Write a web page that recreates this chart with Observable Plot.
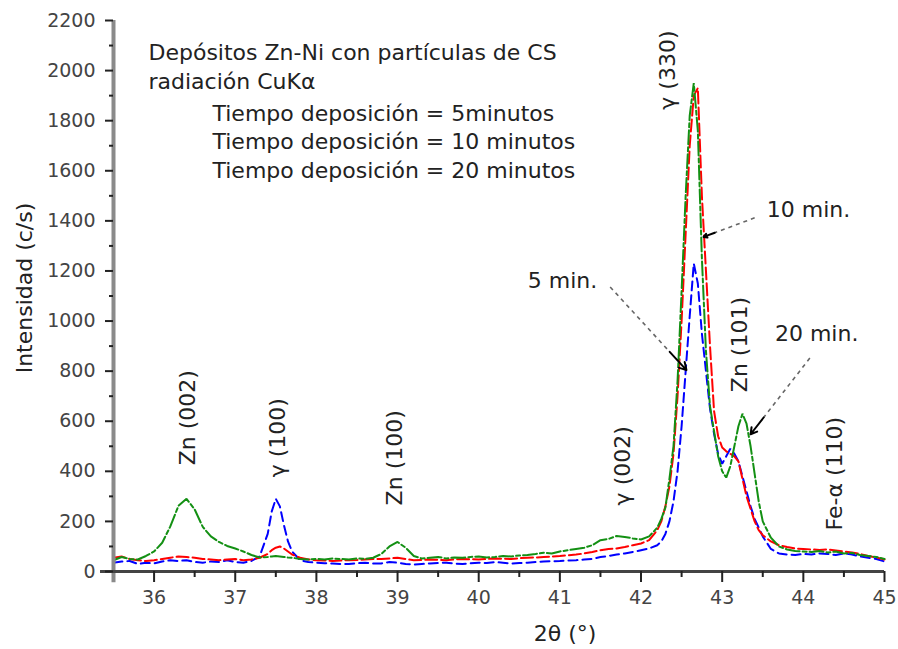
<!DOCTYPE html>
<html>
<head>
<meta charset="utf-8">
<script src="https://cdn.jsdelivr.net/npm/d3@7"></script>
<script src="https://cdn.jsdelivr.net/npm/@observablehq/plot@0.6"></script>
<style>
  html, body { margin: 0; padding: 0; background: #fff; }
  svg { display: block; }
</style>
</head>
<body>
<div id="chart"></div>
<script>
// ---------------- data ----------------
const twoTheta = [
  35.5, 35.6, 35.7, 35.8, 35.9, 36.0, 36.1, 36.2, 36.3, 36.4,
  36.5, 36.6, 36.7, 36.8, 36.9, 37.0, 37.1, 37.2, 37.3, 37.4,
  37.45, 37.5, 37.55, 37.6, 37.65, 37.7, 37.8, 37.9, 38.0, 38.1,
  38.2, 38.3, 38.4, 38.5, 38.6, 38.7, 38.8, 38.9, 39.0, 39.1,
  39.2, 39.3, 39.4, 39.5, 39.6, 39.7, 39.8, 39.9, 40.0, 40.1,
  40.2, 40.3, 40.4, 40.5, 40.6, 40.7, 40.8, 40.9, 41.0, 41.1,
  41.2, 41.3, 41.4, 41.5, 41.6, 41.7, 41.8, 41.9, 42.0, 42.1,
  42.2, 42.25, 42.3, 42.35, 42.4, 42.45, 42.5, 42.55, 42.6, 42.65,
  42.7, 42.75, 42.8, 42.85, 42.9, 42.95, 43.0, 43.05, 43.1, 43.15,
  43.2, 43.25, 43.3, 43.35, 43.4, 43.45, 43.5, 43.6, 43.7, 43.8,
  43.9, 44.0, 44.1, 44.2, 44.3, 44.4, 44.5, 44.6, 44.7, 44.8,
  44.9, 45.0
];

// Tiempo deposición = 5 minutos (blue)
const int5min = [
  35, 40, 42, 30, 35, 32, 40, 45, 42, 45,
  38, 35, 40, 38, 45, 38, 35, 42, 60, 150,
  240, 290, 260, 185, 120, 80, 45, 38, 35, 33,
  32, 30, 30, 33, 35, 32, 32, 38, 35, 30,
  28, 30, 32, 34, 35, 32, 30, 33, 35, 34,
  38, 35, 32, 34, 35, 38, 40, 41, 42, 44,
  45, 48, 50, 58, 62, 68, 72, 78, 85, 92,
  105, 120, 150, 200, 280, 400, 580, 800, 1020, 1230,
  1150, 950, 800, 650, 550, 470, 430, 460, 490, 470,
  440, 380, 320, 260, 210, 175, 140, 90, 72, 68,
  66, 70, 68, 72, 70, 66, 72, 68, 60, 55,
  50, 40
];

// Tiempo deposición = 10 minutos (red)
const int10min = [
  55, 60, 50, 45, 42, 45, 50, 55, 60, 58,
  55, 50, 48, 45, 48, 50, 45, 48, 55, 70,
  85, 95, 100, 92, 80, 68, 55, 48, 45, 44,
  42, 44, 45, 46, 48, 50, 50, 52, 55, 50,
  45, 46, 48, 47, 45, 48, 50, 49, 48, 50,
  52, 51, 50, 53, 55, 56, 58, 60, 62, 65,
  68, 72, 78, 85, 90, 92, 98, 105, 112, 125,
  165, 200, 260, 340, 470, 700, 1000, 1350, 1700, 1900,
  1930, 1500, 1200, 900, 640, 540, 495, 480, 470, 460,
  440, 370, 300, 250, 200, 165, 145, 120, 105, 98,
  92, 90, 88, 86, 88, 84, 80, 76, 70, 62,
  56, 48
];

// Tiempo deposición = 20 minutos (green)
const int20min = [
  45, 58, 50, 48, 62, 80, 115, 180, 262, 290,
  248, 178, 140, 118, 102, 92, 80, 66, 56, 58,
  60, 62, 60, 58, 56, 55, 50, 48, 50, 48,
  52, 50, 48, 52, 50, 55, 70, 100, 118, 95,
  62, 52, 55, 58, 52, 56, 55, 58, 60, 56,
  58, 62, 60, 64, 66, 70, 75, 72, 80, 85,
  90, 95, 105, 125, 130, 142, 138, 132, 128, 140,
  175, 210, 255, 370, 500, 760, 1120, 1500, 1820, 1950,
  1760, 1250, 880, 660, 560, 460, 400, 375, 420, 500,
  580, 630, 590, 500, 390, 280, 200, 135, 100, 88,
  82, 80, 78, 82, 76, 80, 72, 74, 66, 62,
  58, 50
];

const seriesNames = ["5 min", "10 min", "20 min"];
const xTicks = [36, 37, 38, 39, 40, 41, 42, 43, 44, 45];
const xMinorTicks = [36.5, 37.5, 38.5, 39.5, 40.5, 41.5, 42.5, 43.5, 44.5];
const yTicks = [0, 200, 400, 600, 800, 1000, 1200, 1400, 1600, 1800, 2000, 2200];
const yMinorTicks = [100, 300, 500, 700, 900, 1100, 1300, 1500, 1700, 1900, 2100];

const legendHeader = ["Depósitos Zn-Ni con partículas de CS", "radiación CuKα"];
const legendEntries = [
  "Tiempo deposición = 5minutos",
  "Tiempo deposición = 10 minutos",
  "Tiempo deposición = 20 minutos"
];

// peak identifications (2θ position, intensity at foot of label)
const peakLabelText = ["Zn (002)", "γ (100)", "Zn (100)", "γ (002)", "γ (330)", "Zn (101)", "Fe-α (110)"];
const peakLabelTheta = [36.42, 37.53, 38.97, 41.78, 42.33, 43.22, 44.39];
const peakLabelIntensity = [424, 376, 264, 264, 1844, 716, 164];

// curve call-outs: text, text position, arrow start, arrow end
const calloutText = ["10 min.", "5 min.", "20 min."];
const calloutTheta = [43.55, 41.46, 43.65];
const calloutIntensity = [1444, 1160, 948];
const calloutAnchor = ["start", "end", "start"];
const arrowFromTheta = [43.40, 41.62, 44.08];
const arrowFromIntensity = [1412, 1136, 852];
const arrowToTheta = [42.77, 42.56, 43.35];
const arrowToIntensity = [1336, 804, 548];

// ---------------- build ----------------
const colors = {"5 min": "#0000ff", "10 min": "#ff0000", "20 min": "#139013"};
const dashes = {"5 min": "9,5", "10 min": "12,4", "20 min": "14,3,4,3"};
const seriesValues = [int5min, int10min, int20min];
if (seriesValues.some(v => v.length !== twoTheta.length)) console.error("length mismatch", seriesValues.map(v => v.length), twoTheta.length);

const rows = seriesNames.flatMap((name, s) =>
  twoTheta.map((t, i) => ({name, theta: t, I: seriesValues[s][i]})));

const peakLabels = peakLabelText.map((text, i) => ({text, x: peakLabelTheta[i], y: peakLabelIntensity[i]}));
const callouts = calloutText.map((text, i) => ({
  text, x: calloutTheta[i], y: calloutIntensity[i], anchor: calloutAnchor[i],
  x1: arrowFromTheta[i], y1: arrowFromIntensity[i], x2: arrowToTheta[i], y2: arrowToIntensity[i],
  hx: arrowFromTheta[i] + 0.78 * (arrowToTheta[i] - arrowFromTheta[i]),
  hy: arrowFromIntensity[i] + 0.78 * (arrowToIntensity[i] - arrowFromIntensity[i])
}));

const font = "'DejaVu Sans', 'Liberation Sans', sans-serif";

const chart = Plot.plot({
  width: 898,
  height: 649,
  marginLeft: 113,
  marginRight: 14,
  marginTop: 20,
  marginBottom: 78,
  x: {domain: [35.5, 45], label: null},
  y: {domain: [0, 2200], label: null},
  style: {fontFamily: font, background: "#fff", color: "#222", overflow: "visible"},
  marks: [
    // curves
    ...seriesNames.map(name => Plot.line(rows.filter(d => d.name === name), {
      x: "theta", y: "I", stroke: colors[name], strokeWidth: 2,
      strokeDasharray: dashes[name], strokeLinejoin: "miter"
    })),

    // axis lines
    Plot.ruleX([35.5], {y1: -45, y2: 2200, stroke: "#8a8a8a", strokeWidth: 4}),
    Plot.ruleY([0], {x1: 35.34, x2: 45, stroke: "#444", strokeWidth: 3}),

    // x axis
    Plot.axisX(xTicks, {tickSize: 11, tickPadding: 8, tickFormat: d3.format("d"), fontSize: 19,
      stroke: "#222", strokeWidth: 2, fill: "#444", label: null}),
    Plot.axisX(xMinorTicks, {tickSize: 6, tickFormat: () => "", stroke: "#222", strokeWidth: 2, label: null}),
    // y axis
    Plot.axisY(yTicks, {tickSize: 8, tickPadding: 10, tickFormat: d3.format("d"), fontSize: 19,
      stroke: "#222", strokeWidth: 2, fill: "#444", label: null}),
    Plot.axisY(yMinorTicks, {tickSize: 4, tickFormat: () => "", stroke: "#222", strokeWidth: 2, label: null}),

    // axis titles
    Plot.text(["Intensidad (c/s)"], {frameAnchor: "left", dx: -89, dy: -8, rotate: -90,
      textAnchor: "middle", lineAnchor: "middle", fontSize: 22, fill: "#222", text: d => d}),
    Plot.text(["2θ (°)"], {frameAnchor: "bottom", dx: 66, dy: 62, textAnchor: "middle",
      lineAnchor: "middle", fontSize: 22, fill: "#222", text: d => d}),

    // legend block
    ...legendHeader.map((t, i) => Plot.text([t], {frameAnchor: "top-left", dx: 35, dy: 32 + i * 29,
      text: d => d, fontSize: 22, fill: "#222", textAnchor: "start", lineAnchor: "middle"})),
    ...legendEntries.map((t, i) => Plot.text([t], {frameAnchor: "top-left", dx: 99, dy: 93 + i * 28.5,
      text: d => d, fontSize: 22, fill: "#222", textAnchor: "start", lineAnchor: "middle"})),

    // peak labels
    Plot.text(peakLabels, {x: "x", y: "y", text: "text", rotate: -90, textAnchor: "start",
      lineAnchor: "middle", fontSize: 22, fill: "#222"}),

    // call-outs
    Plot.link(callouts, {x1: "x1", y1: "y1", x2: "hx", y2: "hy", stroke: "#666",
      strokeWidth: 1.6, strokeDasharray: "4,4"}),
    Plot.arrow(callouts, {x1: "hx", y1: "hy", x2: "x2", y2: "y2", stroke: "#000",
      strokeWidth: 2, headLength: 9}),
    Plot.text(callouts.filter(d => d.anchor === "start"), {x: "x", y: "y", text: "text",
      textAnchor: "start", fontSize: 22, fill: "#222"}),
    Plot.text(callouts.filter(d => d.anchor === "end"), {x: "x", y: "y", text: "text",
      textAnchor: "end", fontSize: 22, fill: "#222"})
  ]
});

document.getElementById("chart").appendChild(chart);
</script>
</body>
</html>
